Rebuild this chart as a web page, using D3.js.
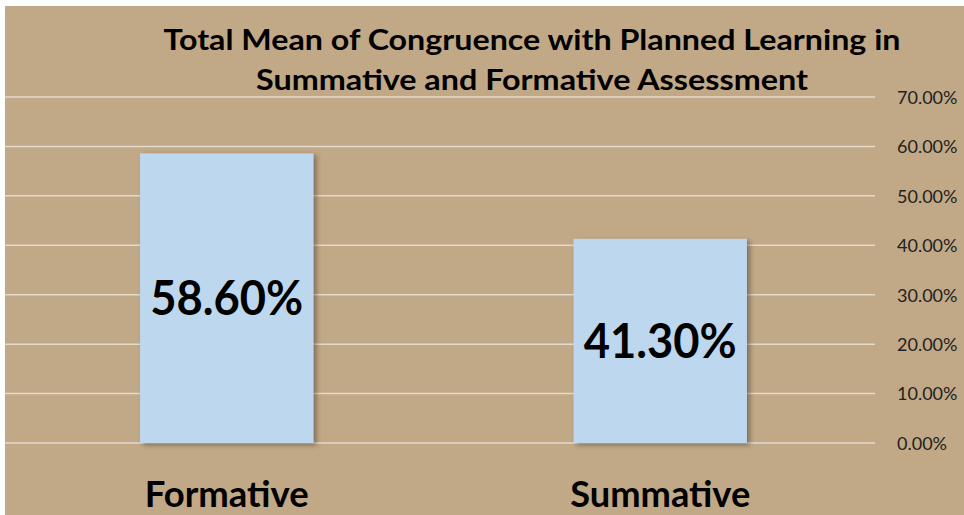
<!DOCTYPE html>
<html>
<head>
<meta charset="utf-8">
<script src="https://cdn.jsdelivr.net/npm/d3@7"></script>
<style>
  body { margin: 0; background: #fff; }
  svg { display: block; }
</style>
</head>
<body>
<svg id="chart"></svg>
<script>
// chart data
const categories = ['Formative', 'Summative'];
const values = [58.6, 41.3];
const yTicks = [0, 10, 20, 30, 40, 50, 60, 70];
const titleLines = ['Total Mean of Congruence with Planned Learning in', 'Summative and Formative Assessment'];

const width = 964, height = 515;
const font = 'Lato, "Open Sans", sans-serif';

const svg = d3.select('#chart')
    .attr('width', width)
    .attr('height', height);

// panel background, white strip on top and left
svg.append('rect')
    .attr('x', 5).attr('y', 6)
    .attr('width', width - 5).attr('height', height - 6)
    .attr('fill', '#C1A886');

const defs = svg.append('defs');
const shadow = defs.append('filter').attr('id', 'shadow')
    .attr('x', '-10%').attr('y', '-10%').attr('width', '130%').attr('height', '130%');
shadow.append('feDropShadow')
    .attr('dx', 3).attr('dy', 2).attr('stdDeviation', 2.5)
    .attr('flood-color', '#000').attr('flood-opacity', 0.35);

const xScale = d3.scaleBand()
    .domain(categories)
    .range([10, 877])
    .paddingInner(0.6)
    .paddingOuter(0.3);

const yScale = d3.scaleLinear()
    .domain([0, 70])
    .range([443, 97]);

// gridlines
svg.append('g')
    .selectAll('line')
    .data(yTicks)
    .join('line')
    .attr('x1', 5)
    .attr('x2', 875)
    .attr('y1', d => yScale(d))
    .attr('y2', d => yScale(d))
    .attr('stroke', '#E2DACD')
    .attr('stroke-width', 1.5);

// right axis labels
const yAxis = d3.axisRight(yScale)
    .tickValues(yTicks)
    .tickSize(0)
    .tickPadding(0)
    .tickFormat(d => d.toFixed(2) + '%');

const axisG = svg.append('g')
    .attr('transform', 'translate(897,0)')
    .call(yAxis);
axisG.select('.domain').remove();
axisG.selectAll('text')
    .attr('font-family', font)
    .attr('font-size', 18)
    .attr('fill', '#222')
    .attr('dy', '0.35em');

// bars
svg.append('g')
    .selectAll('rect')
    .data(values)
    .join('rect')
    .attr('x', (d, i) => xScale(categories[i]))
    .attr('y', d => yScale(d))
    .attr('width', xScale.bandwidth())
    .attr('height', d => yScale(0) - yScale(d))
    .attr('fill', '#BDD7EE')
    .attr('filter', 'url(#shadow)');

// value labels inside bars
svg.append('g')
    .selectAll('text')
    .data(values)
    .join('text')
    .attr('x', (d, i) => xScale(categories[i]) + xScale.bandwidth() / 2)
    .attr('y', d => (yScale(d) + yScale(0)) / 2)
    .attr('dy', '0.36em')
    .attr('text-anchor', 'middle')
    .attr('font-family', font)
    .attr('font-weight', 'bold')
    .attr('font-size', 47)
    .attr('textLength', 153)
    .attr('lengthAdjust', 'spacingAndGlyphs')
    .attr('fill', '#000')
    .text(d => d.toFixed(2) + '%');

// category labels
svg.append('g')
    .selectAll('text')
    .data(categories)
    .join('text')
    .attr('x', d => xScale(d) + xScale.bandwidth() / 2)
    .attr('y', 507)
    .attr('text-anchor', 'middle')
    .attr('font-family', font)
    .attr('font-weight', 'bold')
    .attr('font-size', 37)
    .attr('textLength', (d, i) => i === 0 ? 164 : 180)
    .attr('lengthAdjust', 'spacingAndGlyphs')
    .attr('fill', '#000')
    .text(d => d);

// title
svg.append('g')
    .selectAll('text')
    .data(titleLines)
    .join('text')
    .attr('x', 532)
    .attr('y', (d, i) => 50 + i * 40)
    .attr('text-anchor', 'middle')
    .attr('font-family', font)
    .attr('font-weight', 'bold')
    .attr('font-size', 29)
    .attr('textLength', (d, i) => i === 0 ? 737 : 552)
    .attr('lengthAdjust', 'spacingAndGlyphs')
    .attr('fill', '#000')
    .text(d => d);
</script>
</body>
</html>
